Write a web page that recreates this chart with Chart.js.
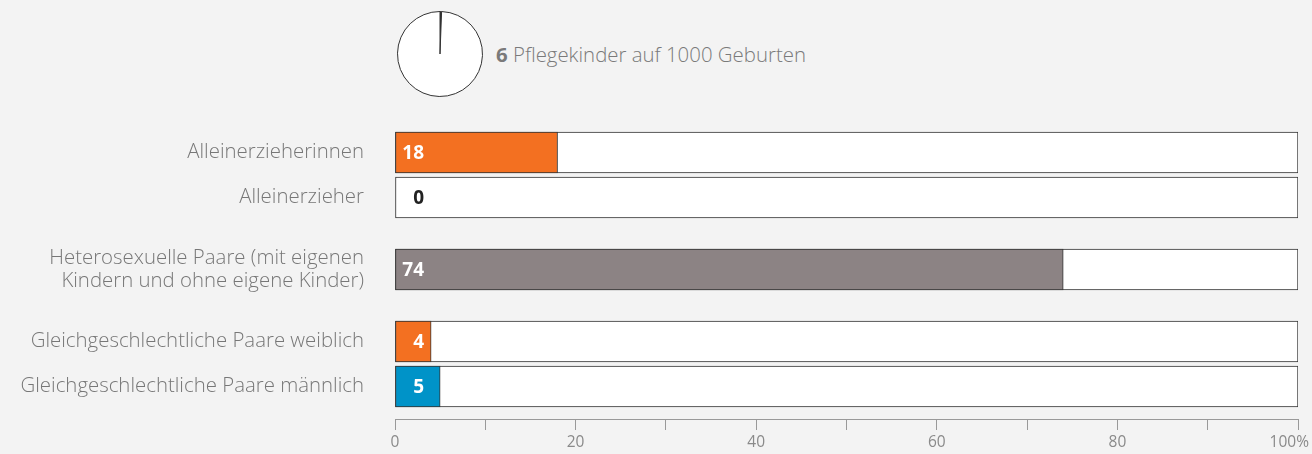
<!DOCTYPE html>
<html><head><meta charset="utf-8">
<script src="https://cdn.jsdelivr.net/npm/chart.js@4/dist/chart.umd.min.js"></script>
<style>
html,body{margin:0;padding:0;background:#f3f3f3;width:1312px;height:454px;overflow:hidden;font-family:"Open Sans",sans-serif;}
#pieWrap{position:absolute;left:397px;top:11px;width:86px;height:86px;}
#pieText{position:absolute;left:496px;top:40px;font-size:20.4px;line-height:28px;color:#7a7a7a;white-space:nowrap;font-weight:300;}
#pieText b{font-weight:700;}
#barWrap{position:absolute;left:0;top:110px;width:1312px;height:344px;}
</style></head>
<body>
<div id="pieWrap"><canvas id="pie" width="86" height="86"></canvas></div>
<div id="pieText"><b id="pieNum"></b> <span id="pieLbl"></span></div>
<div id="barWrap"><canvas id="bar" width="1312" height="344"></canvas></div>
<script>
// ---- data ----
const pieValue = 6;
const pieTotal = 1000;
const pieLabel = "Pflegekinder auf 1000 Geburten";

const categories = [
  "Alleinerzieherinnen",
  "Alleinerzieher",
  ["Heterosexuelle Paare (mit eigenen", "Kindern und ohne eigene Kinder)"],
  "Gleichgeschlechtliche Paare weiblich",
  "Gleichgeschlechtliche Paare männlich"
];
const groups = [0, 0, 1, 2, 2];
const values = [18, 0, 74, 4, 5];
const barColors = ["#f37021", "#f37021", "#8c8384", "#f37021", "#0093c8"];
const xTickValues = [0, 20, 40, 60, 80, 100];
const xTickLabels = ["0", "20", "40", "60", "80", "100%"];

// ---- layout helpers ----
const GROUP_GAP = 0.6;
const positions = categories.map((c, i) => i + groups[i] * GROUP_GAP);

document.getElementById('pieNum').textContent = pieValue;
document.getElementById('pieLbl').textContent = pieLabel;

new Chart(document.getElementById('pie'), {
  type: 'pie',
  data: { datasets: [{ data: [pieValue, pieTotal - pieValue], backgroundColor: ['#333333', '#ffffff'], borderColor: '#333333', borderWidth: 1 }] },
  options: { responsive: false, animation: false, events: [], plugins: { legend: { display: false }, tooltip: { enabled: false } } }
});

const FONT = '"Open Sans", sans-serif';

const valueLabels = {
  id: 'valueLabels',
  afterDatasetsDraw(chart) {
    const ctx = chart.ctx;
    const xs = chart.scales.x, ys = chart.scales.y;
    ctx.save();
    ctx.font = '700 19px ' + FONT;
    ctx.textAlign = 'right';
    ctx.textBaseline = 'middle';
    values.forEach((v, i) => {
      ctx.fillStyle = v > 0 ? '#ffffff' : '#222222';
      ctx.fillText(String(v), xs.getPixelForValue(0) + 29, ys.getPixelForValue(positions[i]) + 1);
    });
    // x tick labels
    ctx.font = '400 15.5px ' + FONT;
    ctx.fillStyle = '#8a8a8a';
    ctx.textAlign = 'center';
    ctx.textBaseline = 'middle';
    xTickValues.forEach((v, i) => {
      const w = ctx.measureText(xTickLabels[i]).width;
      let px = xs.getPixelForValue(v);
      px = Math.min(px, chart.width - 3 - w / 2);
      ctx.fillText(xTickLabels[i], px, xs.top + 24);
    });
    ctx.restore();
  }
};

new Chart(document.getElementById('bar'), {
  type: 'bar',
  data: {
    datasets: [
      { data: values.map((v, i) => ({ x: v, y: positions[i] })), backgroundColor: barColors, borderColor: '#333333', borderWidth: 1, borderSkipped: false },
      { data: values.map((v, i) => ({ x: 100, y: positions[i] })), backgroundColor: '#ffffff', borderColor: '#333333', borderWidth: 1, borderSkipped: false }
    ]
  },
  options: {
    indexAxis: 'y',
    responsive: false,
    animation: false,
    events: [],
    grouped: false,
    barThickness: 41,
    layout: { padding: { left: 0, right: 14, top: 0, bottom: 0 } },
    plugins: { legend: { display: false }, tooltip: { enabled: false } },
    scales: {
      x: {
        type: 'linear', min: 0, max: 100, offset: false,
        afterFit(s) { s.height = 35; s.paddingLeft = 0; s.paddingRight = 0; },
        afterBuildTicks(s) { s.ticks = [0,10,20,30,40,50,60,70,80,90,100].map(v => ({ value: v })); },
        ticks: { display: false },
        grid: { drawOnChartArea: false, drawTicks: true, tickLength: 11, color: '#999999', lineWidth: 1, offset: false },
        border: { display: true, color: '#999999', width: 1 }
      },
      y: {
        type: 'linear', reverse: true, offset: false,
        min: -0.944, max: 5.922,
        afterFit(s) { s.width = 395; s.paddingTop = 0; s.paddingBottom = 0; },
        afterBuildTicks(s) { s.ticks = positions.map(p => ({ value: p })); },
        ticks: {
          autoSkip: false, padding: 31, color: '#777777',
          font: { family: FONT, size: 20.4, weight: 300, lineHeight: 1.15 },
          callback(value) {
            const i = positions.findIndex(p => Math.abs(p - value) < 1e-6);
            return i >= 0 ? categories[i] : '';
          }
        },
        grid: { display: false, drawTicks: false, offset: false },
        border: { display: false }
      }
    }
  },
  plugins: [valueLabels]
});
</script>
</body></html>
